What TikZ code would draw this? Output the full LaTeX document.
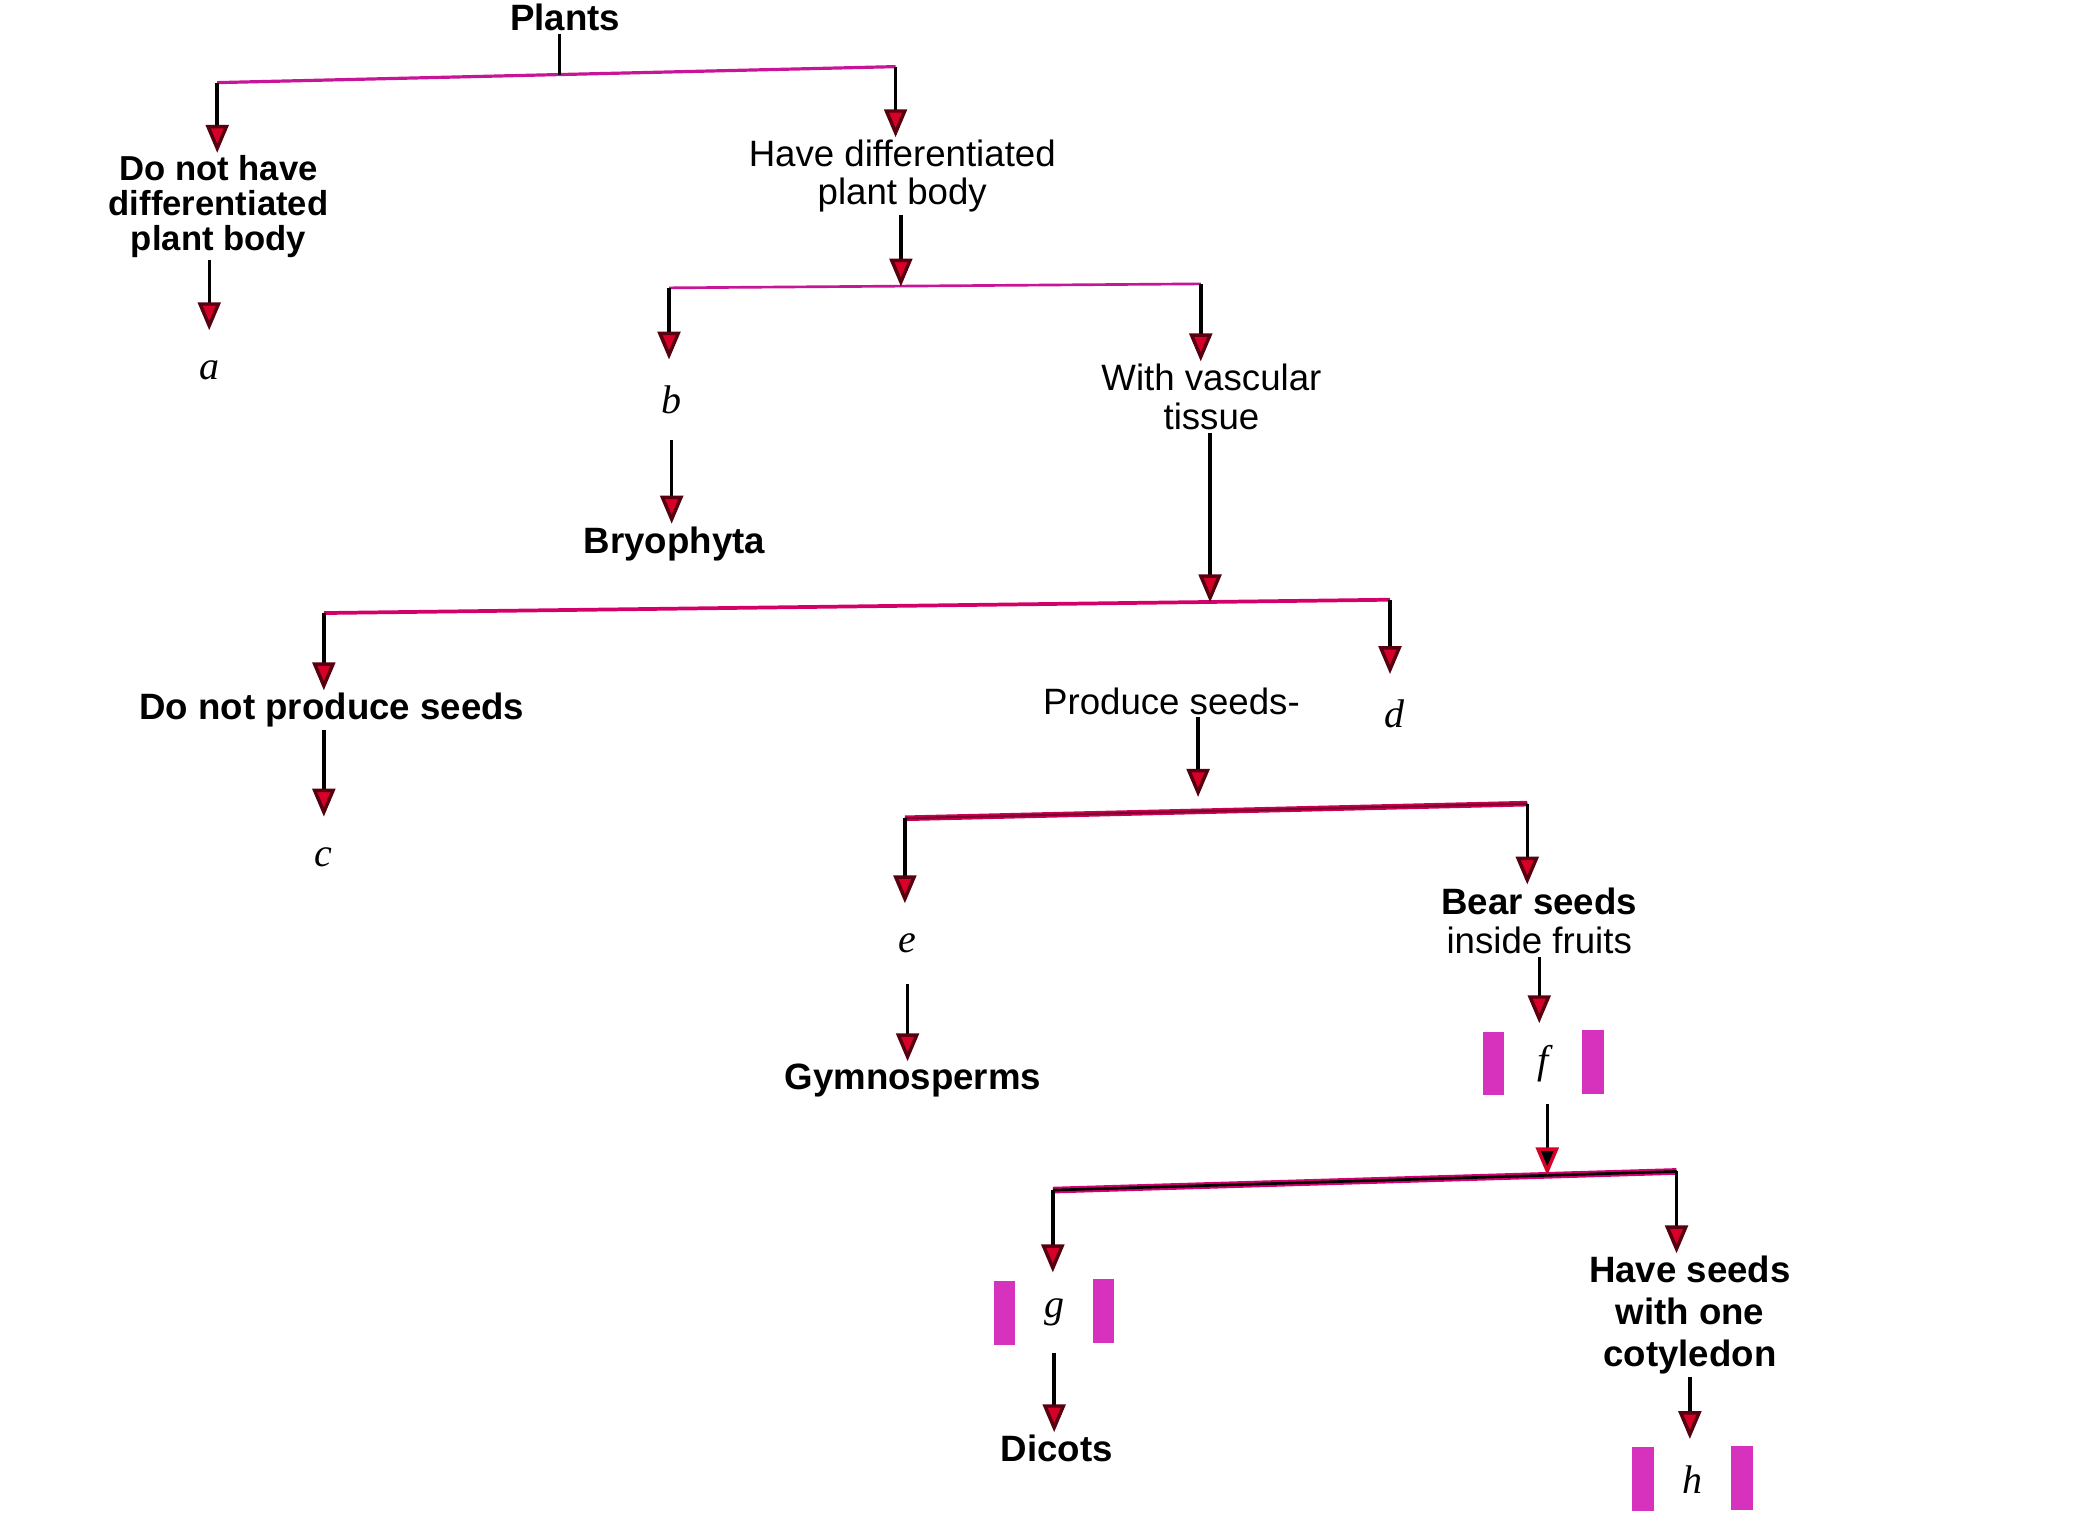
\documentclass[tikz,border=0pt]{standalone}
\usepackage{fontspec}
\setmainfont{Liberation Sans}
\newfontfamily\letterfont{Liberation Serif}
\usetikzlibrary{arrows.meta,calc}
\definecolor{barmag}{RGB}{200,20,150}
\definecolor{barred}{RGB}{205,0,80}
\definecolor{tipred}{RGB}{215,0,40}
\definecolor{markmag}{RGB}{214,50,190}
\tikzset{
 txt/.style={align=center, inner sep=2pt, font=\fontsize{27.5}{29}\selectfont},
 btxt/.style={align=center, inner sep=2pt, font=\fontsize{27.5}{29}\selectfont\bfseries},
 letter/.style={inner sep=0pt, minimum width=74pt, minimum height=60pt, font=\fontsize{30}{30}\letterfont\itshape},
 stem/.style={draw=black, line width=2.6pt},
 arr/.style={stem, -{Triangle[width=17pt,length=21pt,fill=tipred,color=black!60!tipred]}},
 arrk/.style={stem, -{Triangle[width=17pt,length=21pt,fill=black,color=tipred]}},
 barA/.style={draw=barmag, line width=2.4pt},
 barB/.style={draw=barmag, line width=2pt},
 barC/.style={draw=barred!85!magenta, line width=2.8pt},
 barD/.style={draw=black!40!barred, line width=1.6pt, preaction={draw=barred, line width=4.2pt}},
 barE/.style={draw=black, line width=2pt, preaction={draw=barred!80!magenta, line width=5pt}},
 brk/.style={fill=markmag}
}
\begin{document}
\begin{tikzpicture}[x=1pt,y=-1pt]
\useasboundingbox (0,0) rectangle (1560,1143);
% ---- text nodes
\node[btxt] (plants) at (424,13) {Plants};
\node[btxt, font=\fontsize{26}{26}\selectfont\bfseries] (nodiff) at (164,155) {Do not have\\differentiated\\plant body};
\node[txt, font=\fontsize{27.5}{28}\selectfont] (havediff) at (677,132) {Have differentiated\\plant body};
\node[letter] (a) at (157,278) {a};
\node[letter] (b) at (504,300) {b};
\node[btxt] (bryo) at (506,408) {Bryophyta};
\node[txt, font=\fontsize{27.5}{29}\selectfont] (vasc) at (909,298) {With vascular\\tissue};
\node[btxt] (noseeds) at (249,533) {Do not produce seeds};
\node[letter] (c) at (243,643) {c};
\node[txt] (produce) at (879,526) {Produce seeds-};
\node[letter] (d) at (1046,536) {d};
\node[letter] (e) at (681,708) {e};
\node[btxt] (gymno) at (685,811) {Gymnosperms};
\node[txt, font=\fontsize{27.5}{30}\selectfont] (bear) at (1155,691) {{\bfseries Bear seeds}\\inside fruits};
\node[letter] (f) at (1158,798) {f};
\node[letter] (g) at (791,985) {g};
\node[btxt] (dicots) at (793,1087) {Dicots};
\node[btxt, font=\fontsize{27.5}{31.5}\selectfont\bfseries] (haveseeds) at (1268,987) {Have seeds\\with one\\cotyledon};
\node[letter] (h) at (1270,1110) {h};
% ---- bracket marks
\foreach \n in {f,g,h}{
 \fill[brk] ($(\n.west)+(-8,-24)$) rectangle ($(\n.west)+(8,24)$);
 \fill[brk] ($(\n.east)+(-8,-25)$) rectangle ($(\n.east)+(8,23)$);
}
% ---- bar coordinates
\coordinate (b1l) at (163,62);  \coordinate (b1r) at (672,50);  \coordinate (b1m) at (420,56);
\coordinate (b2l) at (502,216); \coordinate (b2r) at (901,213); \coordinate (b2m) at (676,215);
\coordinate (b3l) at (243,460); \coordinate (b3r) at (1043,450); \coordinate (b3m) at (908,452);
\coordinate (b4l) at (679,614); \coordinate (b4r) at (1146,603); \coordinate (p4) at (899,598);
\coordinate (b5l) at (790,893); \coordinate (b5r) at (1258,879); \coordinate (b5m) at (1161,882);
% ---- bars
\draw[barA] (b1l) -- (b1r);
\draw[barB] (b2l) -- (b2r);
\draw[barC] (b3l) -- (b3r);
\draw[barD] (b4l) -- (b4r);
\draw[barE] (b5l) -- (b5r);
% ---- stems into bars
\draw[stem] (plants.south -| b1m) -- (b1m);
\draw[arr] (havediff.south -| b2m) -- (b2m);
\draw[arr] (vasc.south -| b3m) -- (b3m);
\draw[arr] (produce.south -| p4) -- (p4);
\draw[arrk] (f.south -| b5m) -- (b5m);
% ---- arrows out of bars
\draw[arr] (b1l) -- (b1l |- nodiff.north);
\draw[arr] (b1r) -- (b1r |- havediff.north);
\draw[arr] (b2l) -- (b2l |- b.north);
\draw[arr] (b2r) -- (b2r |- vasc.north);
\draw[arr] (b3l) -- (b3l |- noseeds.north);
\draw[arr] (b3r) -- (b3r |- d.north);
\draw[arr] (b4l) -- (b4l |- e.north);
\draw[arr] (b4r) -- (b4r |- bear.north);
\draw[arr] (b5l) -- (b5l |- g.north);
\draw[arr] (b5r) -- (b5r |- haveseeds.north);
% ---- straight arrows
\draw[arr] (nodiff.south -| a.north) -- (a.north);
\draw[arr] (b.south) -- (b.south |- bryo.north);
\draw[arr] (noseeds.south -| c.north) -- (c.north);
\draw[arr] (e.south) -- (e.south |- gymno.north);
\draw[arr] (bear.south) -- (bear.south |- f.north);
\draw[arr] (g.south) -- (g.south |- dicots.north);
\draw[arr] (haveseeds.south) -- (haveseeds.south |- h.north);
\end{tikzpicture}
\end{document}
